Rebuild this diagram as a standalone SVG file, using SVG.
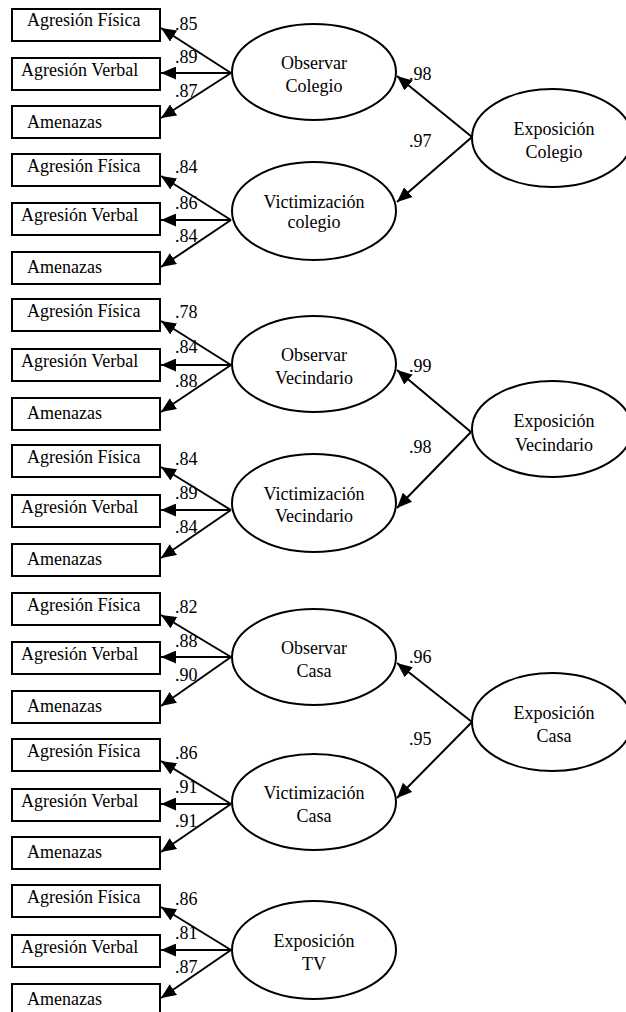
<svg xmlns="http://www.w3.org/2000/svg" width="626" height="1012" viewBox="0 0 626 1012">
<defs>
<marker id="ah" markerWidth="15" markerHeight="13" refX="15" refY="6.5" orient="auto" markerUnits="userSpaceOnUse">
<path d="M0,0 L15,6.5 L0,13 z" fill="#000"/>
</marker>
<style>
text{font-family:"Liberation Serif","Times New Roman",serif;font-size:18px;fill:#000}
.box{fill:#fff;stroke:#000;stroke-width:2}
.ell{fill:#fff;stroke:#000;stroke-width:2}
.c{text-anchor:middle}
#connectors line{stroke:#000;stroke-width:2;marker-end:url(#ah)}
</style>
</defs>
<rect width="626" height="1012" fill="#fff"/>

<g id="connectors">
<line x1="231" y1="73" x2="161" y2="28"/>
<line x1="231" y1="73" x2="161" y2="73"/>
<line x1="231" y1="73" x2="161" y2="118"/>
<line x1="231" y1="220" x2="161" y2="176"/>
<line x1="231" y1="220" x2="161" y2="220"/>
<line x1="231" y1="220" x2="161" y2="267"/>
<line x1="231" y1="365" x2="161" y2="321"/>
<line x1="231" y1="365" x2="161" y2="365"/>
<line x1="231" y1="365" x2="161" y2="412"/>
<line x1="231" y1="510" x2="161" y2="467"/>
<line x1="231" y1="510" x2="161" y2="510"/>
<line x1="231" y1="510" x2="161" y2="558"/>
<line x1="231" y1="657" x2="161" y2="615"/>
<line x1="231" y1="657" x2="161" y2="657"/>
<line x1="231" y1="657" x2="161" y2="706"/>
<line x1="231" y1="804" x2="161" y2="761"/>
<line x1="231" y1="804" x2="161" y2="804"/>
<line x1="231" y1="804" x2="161" y2="852"/>
<line x1="231" y1="950" x2="161" y2="907"/>
<line x1="231" y1="950" x2="161" y2="950"/>
<line x1="231" y1="950" x2="161" y2="998"/>
<line x1="472" y1="137" x2="397" y2="76"/>
<line x1="472" y1="137" x2="397" y2="202"/>
<line x1="471" y1="432" x2="397" y2="370"/>
<line x1="471" y1="432" x2="397" y2="508"/>
<line x1="472" y1="722" x2="397" y2="663"/>
<line x1="472" y1="722" x2="397" y2="798"/>
</g>

<g id="labels">
<text x="175" y="30">.85</text><text x="175" y="63">.89</text><text x="175" y="97">.87</text>
<text x="175" y="173">.84</text><text x="175" y="209">.86</text><text x="175" y="242">.84</text>
<text x="175" y="318">.78</text><text x="175" y="353">.84</text><text x="175" y="387">.88</text>
<text x="175" y="465">.84</text><text x="175" y="499">.89</text><text x="175" y="533">.84</text>
<text x="175" y="613">.82</text><text x="175" y="647">.88</text><text x="175" y="681">.90</text>
<text x="175" y="759">.86</text><text x="175" y="793">.91</text><text x="175" y="827">.91</text>
<text x="175" y="905">.86</text><text x="175" y="939">.81</text><text x="175" y="973">.87</text>
<text x="409" y="80">.98</text><text x="409" y="147">.97</text>
<text x="409" y="372">.99</text><text x="409" y="453">.98</text>
<text x="409" y="663">.96</text><text x="409" y="745">.95</text>
</g>

<g id="b1-fisica"><rect class="box" x="12" y="9" width="148" height="32"/><text x="27" y="26">Agresión Física</text></g>
<g id="b1-verbal"><rect class="box" x="12" y="58" width="148" height="32"/><text x="21" y="76">Agresión Verbal</text></g>
<g id="b1-amenazas"><rect class="box" x="12" y="106" width="148" height="32"/><text x="27" y="128">Amenazas</text></g>
<g id="observar-colegio"><ellipse class="ell" cx="314" cy="72" rx="82" ry="48"/><text class="c" x="314" y="69">Observar</text><text class="c" x="314" y="92">Colegio</text></g>

<g id="b2-fisica"><rect class="box" x="12" y="154" width="148" height="32"/><text x="27" y="172">Agresión Física</text></g>
<g id="b2-verbal"><rect class="box" x="12" y="203" width="148" height="32"/><text x="21" y="221">Agresión Verbal</text></g>
<g id="b2-amenazas"><rect class="box" x="12" y="252" width="148" height="32"/><text x="27" y="273">Amenazas</text></g>
<g id="victimizacion-colegio"><ellipse class="ell" cx="314" cy="211" rx="82" ry="49"/><text class="c" x="314" y="208">Victimización</text><text class="c" x="314" y="228">colegio</text></g>

<g id="b3-fisica"><rect class="box" x="12" y="299" width="148" height="32"/><text x="27" y="317">Agresión Física</text></g>
<g id="b3-verbal"><rect class="box" x="12" y="349" width="148" height="32"/><text x="21" y="367">Agresión Verbal</text></g>
<g id="b3-amenazas"><rect class="box" x="12" y="398" width="148" height="32"/><text x="27" y="419">Amenazas</text></g>
<g id="observar-vecindario"><ellipse class="ell" cx="314" cy="364" rx="82" ry="48"/><text class="c" x="314" y="361">Observar</text><text class="c" x="314" y="384">Vecindario</text></g>

<g id="b4-fisica"><rect class="box" x="12" y="445" width="148" height="32"/><text x="27" y="463">Agresión Física</text></g>
<g id="b4-verbal"><rect class="box" x="12" y="495" width="148" height="32"/><text x="21" y="513">Agresión Verbal</text></g>
<g id="b4-amenazas"><rect class="box" x="12" y="544" width="148" height="32"/><text x="27" y="565">Amenazas</text></g>
<g id="victimizacion-vecindario"><ellipse class="ell" cx="314" cy="503" rx="82" ry="49"/><text class="c" x="314" y="500">Victimización</text><text class="c" x="314" y="522">Vecindario</text></g>

<g id="b5-fisica"><rect class="box" x="12" y="593" width="148" height="32"/><text x="27" y="611">Agresión Física</text></g>
<g id="b5-verbal"><rect class="box" x="12" y="642" width="148" height="32"/><text x="21" y="660">Agresión Verbal</text></g>
<g id="b5-amenazas"><rect class="box" x="12" y="691" width="148" height="32"/><text x="27" y="712">Amenazas</text></g>
<g id="observar-casa"><ellipse class="ell" cx="314" cy="657" rx="82" ry="48"/><text class="c" x="314" y="654">Observar</text><text class="c" x="314" y="677">Casa</text></g>

<g id="b6-fisica"><rect class="box" x="12" y="739" width="148" height="32"/><text x="27" y="757">Agresión Física</text></g>
<g id="b6-verbal"><rect class="box" x="12" y="789" width="148" height="32"/><text x="21" y="807">Agresión Verbal</text></g>
<g id="b6-amenazas"><rect class="box" x="12" y="837" width="148" height="32"/><text x="27" y="858">Amenazas</text></g>
<g id="victimizacion-casa"><ellipse class="ell" cx="314" cy="802" rx="82" ry="48"/><text class="c" x="314" y="799">Victimización</text><text class="c" x="314" y="822">Casa</text></g>

<g id="b7-fisica"><rect class="box" x="12" y="885" width="148" height="32"/><text x="27" y="903">Agresión Física</text></g>
<g id="b7-verbal"><rect class="box" x="12" y="935" width="148" height="32"/><text x="21" y="953">Agresión Verbal</text></g>
<g id="b7-amenazas"><rect class="box" x="12" y="984" width="148" height="32"/><text x="27" y="1005">Amenazas</text></g>
<g id="exposicion-tv"><ellipse class="ell" cx="314" cy="950" rx="82" ry="49"/><text class="c" x="314" y="947">Exposición</text><text class="c" x="314" y="970">TV</text></g>

<g id="exposicion-colegio"><ellipse class="ell" cx="552" cy="138" rx="80" ry="49"/><text class="c" x="554" y="135">Exposición</text><text class="c" x="554" y="158">Colegio</text></g>
<g id="exposicion-vecindario"><ellipse class="ell" cx="552" cy="429" rx="80" ry="48"/><text class="c" x="554" y="427">Exposición</text><text class="c" x="554" y="451">Vecindario</text></g>
<g id="exposicion-casa"><ellipse class="ell" cx="552" cy="722" rx="80" ry="49"/><text class="c" x="554" y="719">Exposición</text><text class="c" x="554" y="742">Casa</text></g>
</svg>
